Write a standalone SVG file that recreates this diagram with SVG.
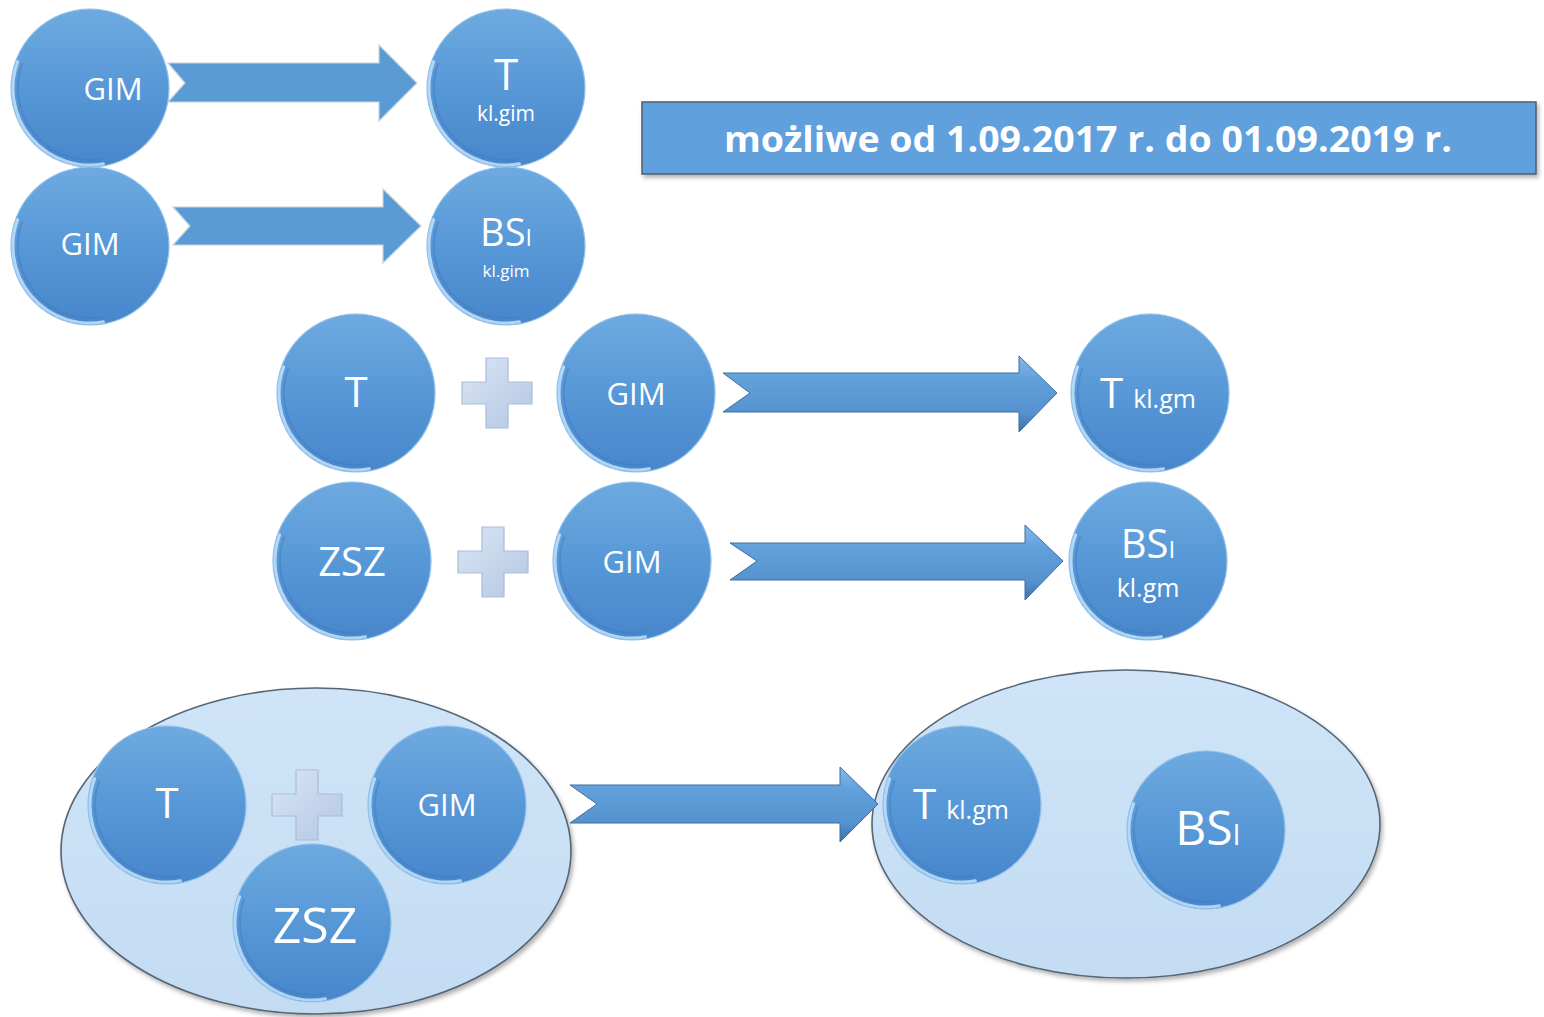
<svg xmlns="http://www.w3.org/2000/svg" xmlns:xlink="http://www.w3.org/1999/xlink" width="1544" height="1017" viewBox="0 0 1544 1017">
<defs>
  <linearGradient id="ballG" x1="0" y1="0" x2="0" y2="1">
    <stop offset="0" stop-color="#6eaae0"/>
    <stop offset="0.55" stop-color="#5596d6"/>
    <stop offset="1" stop-color="#4886cb"/>
  </linearGradient>
  <linearGradient id="arrowG" x1="0" y1="0" x2="0" y2="1">
    <stop offset="0" stop-color="#84b9e9"/>
    <stop offset="0.3" stop-color="#62a0db"/>
    <stop offset="0.75" stop-color="#5592cf"/>
    <stop offset="1" stop-color="#3d72a8"/>
  </linearGradient>
  <linearGradient id="plusG" x1="0" y1="0" x2="1" y2="1">
    <stop offset="0" stop-color="#dbe6f5"/>
    <stop offset="1" stop-color="#b3c6e3"/>
  </linearGradient>
  <linearGradient id="ellG" x1="0" y1="0" x2="0" y2="1">
    <stop offset="0" stop-color="#cfe4f7"/>
    <stop offset="1" stop-color="#c3dcf3"/>
  </linearGradient>
  <filter id="sh" x="-10%" y="-10%" width="120%" height="130%">
    <feDropShadow dx="2" dy="3" stdDeviation="2" flood-color="#000" flood-opacity="0.3"/>
  </filter>
  <symbol id="ball" overflow="visible">
    <circle cx="0" cy="0" r="79" fill="url(#ballG)" stroke="#8ec0ea" stroke-width="1.2"/>
    <path d="M -72.4 -26.3 A 77 77 0 0 0 13.4 75.8" fill="none" stroke="#c4e2fa" stroke-width="3" stroke-linecap="round" opacity="0.85"/>
    <path d="M -68 -24 A 72 72 0 0 0 12 71" fill="none" stroke="#3f7cbf" stroke-width="2" stroke-linecap="round" opacity="0.45"/>
  </symbol>
  <symbol id="plus" overflow="visible">
    <path d="M-11 -35 H11 V-11 H35 V11 H11 V35 H-11 V11 H-35 V-11 H-11 Z" fill="url(#plusG)" stroke="#a9bdd9" stroke-width="1.2"/>
  </symbol>
</defs>
<style>
  .t { fill: #ffffff; font-family: "Open Sans", "Liberation Sans", sans-serif; text-anchor: middle; }
  .ts { fill: #ffffff; font-family: "Open Sans", "Liberation Sans", sans-serif; }
  .flat { fill: #5b9bd5; stroke: #c9d3dc; stroke-width: 1.2; }
  .bev { fill: url(#arrowG); stroke: #3b6ea3; stroke-width: 1; }
  .ell { fill: url(#ellG); stroke: #566676; stroke-width: 1.6; }
</style>

<g id="banner">
  <rect x="642" y="102" width="894" height="72" fill="#5fa0dd" stroke="#4f5d6e" stroke-width="1.5" filter="url(#sh)"/>
  <text class="t" x="1088" y="152" font-size="36" font-weight="bold" textLength="728" lengthAdjust="spacingAndGlyphs">możliwe od 1.09.2017 r. do 01.09.2019 r.</text>
</g>

<g id="group-left">
  <ellipse class="ell" cx="316" cy="851" rx="255" ry="163" filter="url(#sh)"/>
</g>
<g id="group-right">
  <ellipse class="ell" cx="1126" cy="824" rx="254" ry="154" filter="url(#sh)"/>
</g>

<g id="connectors">
  <path class="flat" d="M168 63 L379 63 L379 45 L417 83 L379 121 L379 102 L168 102 L185 83 Z"/>
  <path class="flat" d="M173 207 L383 207 L383 189 L421 226 L383 263 L383 245 L173 245 L190 226 Z"/>
  <path class="bev" d="M723 373 L1019 373 L1019 356 L1057 393 L1019 432 L1019 412 L723 412 L750 393 Z"/>
  <path class="bev" d="M730 543 L1025 543 L1025 525 L1063 561 L1025 600 L1025 580 L730 580 L757 561 Z"/>
  <path class="bev" d="M570 785 L840 785 L840 767 L878 804 L840 842 L840 823 L570 823 L597 804 Z"/>
  <use href="#plus" x="497" y="393"/>
  <use href="#plus" x="493" y="562"/>
  <use href="#plus" x="307" y="805"/>
</g>

<g id="n-gim1">
  <use href="#ball" x="90" y="88"/>
  <text class="t" x="113" y="100" font-size="31">GIM</text>
</g>
<g id="n-tkl1">
  <use href="#ball" x="506" y="88"/>
  <text class="t" x="506" y="90" font-size="44">T</text>
  <text class="t" x="506" y="121" font-size="21">kl.gim</text>
</g>
<g id="n-gim2">
  <use href="#ball" x="90" y="246"/>
  <text class="t" x="90" y="255" font-size="31">GIM</text>
</g>
<g id="n-bsi1">
  <use href="#ball" x="506" y="246"/>
  <text class="t" x="506" y="246" font-size="38">BS<tspan font-size="23">I</tspan></text>
  <text class="t" x="506" y="277" font-size="17">kl.gim</text>
</g>

<g id="n-t3">
  <use href="#ball" x="356" y="393"/>
  <text class="t" x="356" y="407" font-size="42">T</text>
</g>
<g id="n-gim3">
  <use href="#ball" x="636" y="393"/>
  <text class="t" x="636" y="405" font-size="31">GIM</text>
</g>
<g id="n-tkl3">
  <use href="#ball" x="1150" y="393"/>
  <text class="ts" x="1100" y="408"><tspan font-size="42">T</tspan><tspan font-size="25" dx="10">kl.gm</tspan></text>
</g>

<g id="n-zsz4">
  <use href="#ball" x="352" y="561"/>
  <text class="t" x="352" y="576" font-size="40">ZSZ</text>
</g>
<g id="n-gim4">
  <use href="#ball" x="632" y="561"/>
  <text class="t" x="632" y="573" font-size="31">GIM</text>
</g>
<g id="n-bsi4">
  <use href="#ball" x="1148" y="561"/>
  <text class="t" x="1148" y="558" font-size="40">BS<tspan font-size="24">I</tspan></text>
  <text class="t" x="1148" y="597" font-size="25">kl.gm</text>
</g>

<g id="n-t5">
  <use href="#ball" x="167" y="805"/>
  <text class="t" x="167" y="818" font-size="42">T</text>
</g>
<g id="n-gim5">
  <use href="#ball" x="447" y="805"/>
  <text class="t" x="447" y="816" font-size="31">GIM</text>
</g>
<g id="n-zsz5">
  <use href="#ball" x="312" y="923"/>
  <text class="t" x="315" y="943" font-size="50">ZSZ</text>
</g>
<g id="n-tkl5">
  <use href="#ball" x="962" y="805"/>
  <text class="ts" x="913" y="819"><tspan font-size="42">T</tspan><tspan font-size="25" dx="10">kl.gm</tspan></text>
</g>
<g id="n-bsi5">
  <use href="#ball" x="1206" y="830"/>
  <text class="t" x="1208" y="845" font-size="48">BS<tspan font-size="29">I</tspan></text>
</g>
</svg>
